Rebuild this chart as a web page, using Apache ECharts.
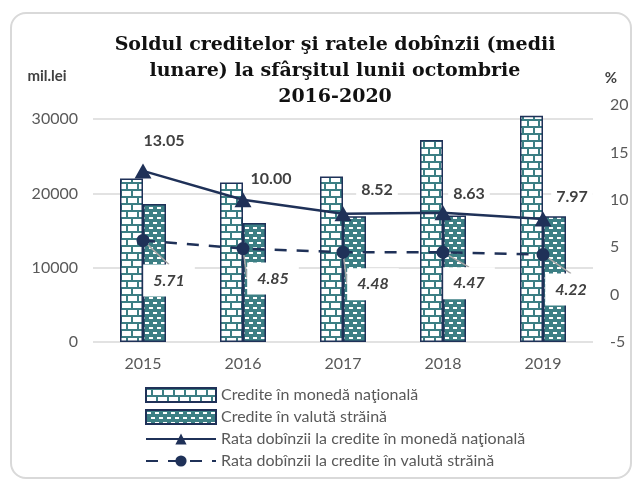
<!DOCTYPE html>
<html>
<head>
<meta charset="utf-8">
<script src="https://cdn.jsdelivr.net/npm/echarts@6/dist/echarts.min.js"></script>
<style>
  html, body { margin: 0; padding: 0; background: #fff; }
  #main { width: 638px; height: 479px; }
</style>
</head>
<body>
<div id="main"></div>
<script>
// date
var years = ['2015', '2016', '2017', '2018', '2019'];
var crediteNational = [22000, 21470, 22270, 27190, 30440];
var crediteValuta = [18570, 16030, 16920, 17010, 16920];
var rataNational = [13.05, 10.00, 8.52, 8.63, 7.97];
var rataValuta = [5.71, 4.85, 4.48, 4.47, 4.22];
var leftTicks = [0, 10000, 20000, 30000];

var seriesNames = [
  'Credite în monedă naţională',
  'Credite în valută străină',
  'Rata dobînzii la credite în monedă naţională',
  'Rata dobînzii la credite în valută străină'
];

// deplasarea etichetelor fata de puncte (px)
var offsetNational = [[21, -30], [28, -21], [34, -24], [26, -19], [29, -22]];
var offsetValuta = [[26, 40], [30, 30], [30, 32], [26, 31], [28, 35]];

var teal = '#3c7f84';
var navy = '#1f3158';
var labelFont = 'Lato';

// textura caramida
function brickPattern() {
  var c = document.createElement('canvas');
  c.width = 22; c.height = 14;
  var g = c.getContext('2d');
  g.fillStyle = '#fff';
  g.fillRect(0, 0, 22, 14);
  g.fillStyle = teal;
  g.fillRect(0, 0, 22, 2);
  g.fillRect(0, 7, 22, 2);
  g.fillRect(5, 2, 2, 5);
  g.fillRect(16, 2, 2, 5);
  g.fillRect(10, 9, 2, 5);
  g.fillRect(21, 9, 1, 5);
  g.fillRect(0, 9, 1, 5);
  return c;
}

// textura puncte albe pe fond teal
function dashPattern() {
  var c = document.createElement('canvas');
  c.width = 8; c.height = 10;
  var g = c.getContext('2d');
  g.fillStyle = teal;
  g.fillRect(0, 0, 8, 10);
  g.fillStyle = '#fff';
  g.fillRect(1, 2, 4, 2);
  g.fillRect(5, 7, 3, 2);
  g.fillRect(0, 7, 1, 2);
  return c;
}

var chartDom = document.getElementById('main');
var myChart = echarts.init(chartDom, null, { renderer: 'canvas' });
var option;

option = {
  animation: false,
  backgroundColor: '#fff',
  graphic: [
    {
      type: 'rect',
      shape: { x: 11, y: 13, width: 620, height: 465, r: 15 },
      style: { fill: 'none', stroke: '#d9d9d9', lineWidth: 2 },
      silent: true
    },
    {
      type: 'text',
      style: {
        x: 335, y: 32,
        text: 'Soldul creditelor şi ratele dobînzii (medii\nlunare) la sfârşitul lunii octombrie\n2016-2020',
        textAlign: 'center',
        textVerticalAlign: 'top',
        fontFamily: 'DejaVu Serif',
        fontWeight: 'bold',
        fontSize: 19,
        lineHeight: 26,
        fill: '#111'
      }
    },
    {
      type: 'text',
      style: {
        x: 47, y: 76, text: 'mil.lei', textAlign: 'center', textVerticalAlign: 'middle',
        fontFamily: labelFont, fontWeight: 'bold', fontSize: 15, fill: '#404040'
      }
    },
    {
      type: 'text',
      style: {
        x: 611, y: 78, text: '%', textAlign: 'center', textVerticalAlign: 'middle',
        fontFamily: labelFont, fontWeight: 'bold', fontSize: 15, fill: '#404040'
      }
    }
  ],
  grid: { left: 93, right: 45, top: 105, bottom: 137 },
  legend: {
    orient: 'vertical',
    left: 145,
    top: 387,
    padding: 0,
    itemWidth: 70,
    itemHeight: 14,
    itemGap: 6,
    textStyle: { fontFamily: labelFont, fontSize: 16, color: '#595959' },
    data: [
      { name: seriesNames[0], icon: 'rect' },
      { name: seriesNames[1], icon: 'rect' },
      { name: seriesNames[2] },
      { name: seriesNames[3] }
    ]
  },
  xAxis: {
    type: 'category',
    data: years,
    axisLine: { show: false },
    axisTick: { show: false },
    axisLabel: { margin: 14, fontFamily: labelFont, fontSize: 16, color: '#595959' }
  },
  yAxis: [
    {
      type: 'value',
      min: 0,
      max: 31900,
      interval: 10000,
      axisLine: { show: false },
      axisTick: { show: false },
      splitLine: { show: true, showMaxLine: false, lineStyle: { color: '#d9d9d9', width: 1.5 } },
      axisLabel: {
        margin: 15, fontFamily: labelFont, fontSize: 16, color: '#595959',
        formatter: function (v) { return leftTicks.indexOf(v) >= 0 ? String(v) : ''; }
      }
    },
    {
      type: 'value',
      min: -5,
      max: 20,
      interval: 5,
      axisLine: { show: false },
      axisTick: { show: false },
      splitLine: { show: false },
      axisLabel: { margin: 17, fontFamily: labelFont, fontSize: 16, color: '#595959' }
    }
  ],
  series: [
    {
      name: seriesNames[0],
      type: 'bar',
      yAxisIndex: 0,
      barWidth: 23,
      barGap: '0%',
      data: crediteNational,
      itemStyle: {
        color: { image: brickPattern(), repeat: 'repeat' },
        borderColor: navy,
        borderWidth: 1.5
      }
    },
    {
      name: seriesNames[1],
      type: 'bar',
      yAxisIndex: 0,
      barWidth: 23,
      barGap: '0%',
      data: crediteValuta,
      itemStyle: {
        color: { image: dashPattern(), repeat: 'repeat' },
        borderColor: navy,
        borderWidth: 1.5
      }
    },
    {
      name: seriesNames[2],
      type: 'line',
      yAxisIndex: 1,
      data: rataNational,
      symbol: 'triangle',
      symbolSize: [17, 15],
      lineStyle: { color: navy, width: 2.5 },
      itemStyle: { color: navy },
      z: 5,
      label: {
        show: true,
        position: 'inside',
        formatter: function (p) { return p.value.toFixed(2); },
        fontFamily: labelFont,
        fontWeight: 'bold',
        fontSize: 16,
        color: '#404040',
        backgroundColor: '#fff',
        padding: [2, 5]
      },
      labelLayout: function (p) {
        var o = offsetNational[p.dataIndex];
        return { dx: o[0], dy: o[1] };
      }
    },
    {
      name: seriesNames[3],
      type: 'line',
      yAxisIndex: 1,
      data: rataValuta,
      symbol: 'circle',
      symbolSize: 13,
      lineStyle: { color: navy, width: 2.5, type: [12, 10] },
      itemStyle: { color: navy },
      z: 5,
      label: {
        show: true,
        position: 'inside',
        formatter: function (p) { return p.value.toFixed(2); },
        fontFamily: labelFont,
        fontWeight: 'bold',
        fontStyle: 'italic',
        fontSize: 16,
        color: '#404040',
        backgroundColor: '#fff',
        padding: [8, 10]
      },
      labelLine: { show: true, lineStyle: { color: '#a6a6a6', width: 1.5 } },
      labelLayout: function (p) {
        var o = offsetValuta[p.dataIndex];
        return { dx: o[0], dy: o[1] };
      }
    }
  ]
};

option && myChart.setOption(option, true);
</script>
</body>
</html>
